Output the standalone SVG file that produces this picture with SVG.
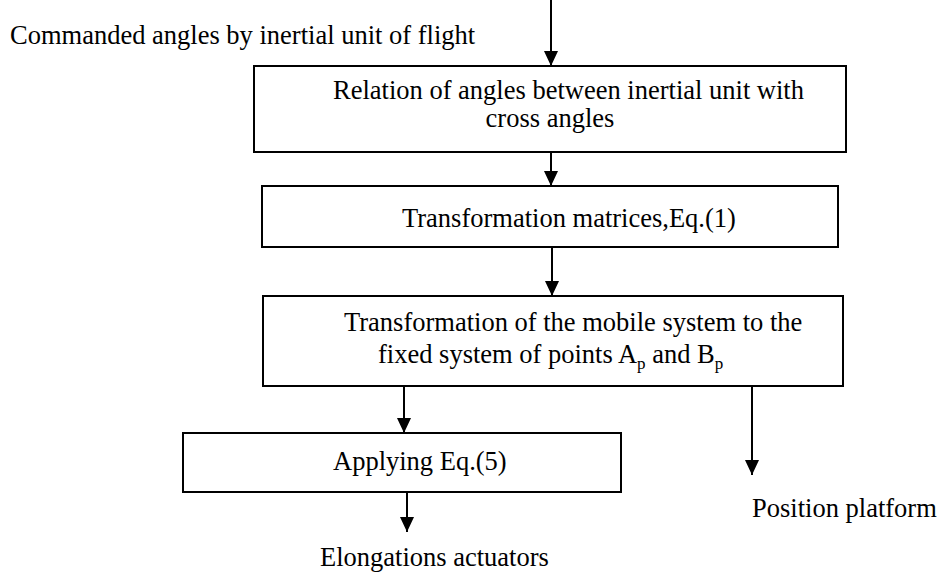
<svg xmlns="http://www.w3.org/2000/svg" width="941" height="574" viewBox="0 0 941 574">
<style>
text{font-family:"Liberation Serif","Times New Roman",serif;font-size:26.5px;fill:#000}
.box{fill:#fff;stroke:#000;stroke-width:2}
.con{stroke:#000;stroke-width:2;fill:none}
.sub{font-size:17px}
</style>
<defs>
<marker id="ah" markerUnits="userSpaceOnUse" markerWidth="16" markerHeight="16" refX="15" refY="7" orient="auto" viewBox="0 0 16 14">
<polygon points="0,0 15,7 0,14" fill="#000"/>
</marker>
</defs>
<rect width="941" height="574" fill="#fff"/>
<g id="connectors">
<line class="con" x1="551" y1="0" x2="551" y2="66" marker-end="url(#ah)"/>
<line class="con" x1="551" y1="152" x2="551" y2="186" marker-end="url(#ah)"/>
<line class="con" x1="552" y1="247" x2="552" y2="296" marker-end="url(#ah)"/>
<line class="con" x1="404" y1="386" x2="404" y2="433" marker-end="url(#ah)"/>
<line class="con" x1="752" y1="386" x2="752" y2="475" marker-end="url(#ah)"/>
<line class="con" x1="407" y1="492" x2="407" y2="532" marker-end="url(#ah)"/>
</g>
<g id="input-label"><text x="10" y="44">Commanded angles by inertial unit of flight</text></g>
<g id="node-relation">
<rect class="box" x="254" y="66" width="592" height="86"/>
<text x="333" y="99">Relation of angles between inertial unit with</text>
<text x="550" y="127" text-anchor="middle">cross angles</text>
</g>
<g id="node-matrices">
<rect class="box" x="262" y="186" width="576" height="61"/>
<text x="402" y="227">Transformation matrices,Eq.(1)</text>
</g>
<g id="node-transformation">
<rect class="box" x="263" y="296" width="580" height="90"/>
<text x="344" y="331">Transformation of the mobile system to the</text>
<text x="378" y="363">fixed system of points A<tspan class="sub" dy="6">p</tspan><tspan dy="-6"> and B</tspan><tspan class="sub" dy="6">p</tspan></text>
</g>
<g id="node-applying">
<rect class="box" x="183" y="433" width="438" height="59"/>
<text x="333" y="470">Applying Eq.(5)</text>
</g>
<g id="output-position"><text x="752" y="517">Position platform</text></g>
<g id="output-elongations"><text x="320" y="566">Elongations actuators</text></g>
</svg>
